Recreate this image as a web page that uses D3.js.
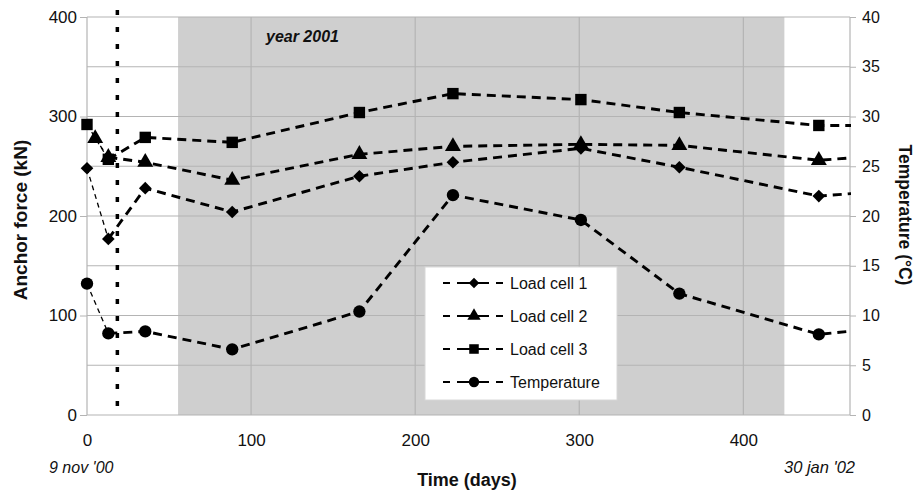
<!DOCTYPE html>
<html>
<head>
<meta charset="utf-8">
<script src="https://cdn.jsdelivr.net/npm/d3@7"></script>
<style>
    body { margin: 0; background: #fff; }
    svg { font-family: "Liberation Sans", Arial, sans-serif; }
</style>
</head>
<body>
<svg id="chart" width="919" height="495"></svg>
<script>
// time in days since 9 nov '00 (last day sits just past the axis, it is clipped)
const days = [0, 13, 35.5, 88.5, 166, 223, 301, 361, 446, 470];
const days_cell2 = [5, 13, 35.5, 88.5, 166, 223, 301, 361, 446, 470];

const load_cell_1 = [248, 177, 228, 204, 240, 254, 268, 249, 220, 223];
const load_cell_2 = [278, 259, 254, 236, 262, 270, 272, 271, 256, 259];
const load_cell_3 = [292, 257, 279, 274, 304, 323, 317, 304, 291, 291];
const temperature = [13.2, 8.2, 8.4, 6.6, 10.4, 22.1, 19.6, 12.2, 8.1, 8.5];

const force_ticks = [0, 100, 200, 300, 400];
const temp_ticks = [0, 5, 10, 15, 20, 25, 30, 35, 40];
const time_ticks = [0, 100, 200, 300, 400];

const year_2001 = [55.5, 425];   // shaded band, days
const marker_day = 18.5;          // dotted vertical line

class AnchorChart {

    constructor(html_selector_id) {
        this.svg = d3.select(html_selector_id);
        this.x = d3.scaleLinear().domain([0, 465]).range([87, 850]);
        this.y = d3.scaleLinear().domain([0, 400]).range([415, 17]);
        this.y_temp = d3.scaleLinear().domain([0, 40]).range([415, 17]);
        this.grid_color = "#b4b4b4";
    }

    draw_background() {
        let x = this.x, y = this.y;
        this.svg.append("defs").append("clipPath")
            .attr("id", "plot-clip")
            .append("rect")
            .attr("x", x(0)).attr("y", y(400) - 10)
            .attr("width", x(465) - x(0) + 1).attr("height", y(0) - y(400) + 20);

        this.svg.append("rect")
            .attr("x", x(year_2001[0]))
            .attr("y", y(400))
            .attr("width", x(year_2001[1]) - x(year_2001[0]))
            .attr("height", y(0) - y(400))
            .attr("fill", "#cfcfcf");

        this.svg.append("text")
            .attr("x", 266).attr("y", 42)
            .attr("font-size", 16)
            .attr("font-weight", "bold")
            .attr("font-style", "italic")
            .attr("fill", "#111")
            .text("year 2001");

        // horizontal grid every 50 kN
        this.svg.append("g")
            .selectAll("line")
            .data(d3.range(0, 401, 50))
            .join("line")
            .attr("x1", x(0)).attr("x2", x(465))
            .attr("y1", function (d) { return y(d); })
            .attr("y2", function (d) { return y(d); })
            .attr("stroke", this.grid_color)
            .attr("stroke-width", 1.2);

        this.svg.append("g")
            .selectAll("line")
            .data(time_ticks.concat([465]))
            .join("line")
            .attr("x1", function (d) { return x(d); })
            .attr("x2", function (d) { return x(d); })
            .attr("y1", y(400)).attr("y2", y(0))
            .attr("stroke", this.grid_color)
            .attr("stroke-width", 1.2);
    }

    draw_axes() {
        let x = this.x, y = this.y, y_temp = this.y_temp;

        let left = this.svg.append("g")
            .attr("transform", "translate(" + x(0) + ",0)")
            .call(d3.axisLeft(y).tickValues(force_ticks).tickSize(7).tickPadding(3));
        let right = this.svg.append("g")
            .attr("transform", "translate(" + x(465) + ",0)")
            .call(d3.axisRight(y_temp).tickValues(temp_ticks).tickSize(6).tickPadding(6));
        let bottom = this.svg.append("g")
            .attr("transform", "translate(0," + y(0) + ")")
            .call(d3.axisBottom(x).tickValues(time_ticks).tickSize(0).tickPadding(19));

        [left, bottom].forEach(function (g) {
            g.selectAll("text").attr("font-size", 17);
        });
        right.selectAll("text").attr("font-size", 16);

        [left, right, bottom].forEach(function (g) {
            g.select(".domain").remove();
            g.selectAll("line").attr("stroke", "#b4b4b4");
            g.selectAll("text")
                .attr("fill", "#111")
                .attr("font-family", "Liberation Sans, Arial, sans-serif");
        });

        this.svg.append("text")
            .attr("transform", "translate(27,220) rotate(-90)")
            .attr("text-anchor", "middle")
            .attr("font-size", 19)
            .attr("font-weight", "bold")
            .attr("fill", "#111")
            .text("Anchor force (kN)");

        this.svg.append("text")
            .attr("transform", "translate(899,215) rotate(90)")
            .attr("text-anchor", "middle")
            .attr("font-size", 17.5)
            .attr("font-weight", "bold")
            .attr("fill", "#111")
            .text("Temperature (°C)");

        this.svg.append("text")
            .attr("x", 467).attr("y", 486)
            .attr("text-anchor", "middle")
            .attr("font-size", 18)
            .attr("font-weight", "bold")
            .attr("fill", "#111")
            .text("Time (days)");

        this.svg.append("text")
            .attr("x", 49).attr("y", 473)
            .attr("font-size", 16)
            .attr("font-style", "italic")
            .attr("fill", "#111")
            .text("9 nov '00");

        this.svg.append("text")
            .attr("x", 784).attr("y", 473)
            .attr("font-size", 16.5)
            .attr("font-style", "italic")
            .attr("fill", "#111")
            .text("30 jan '02");

        this.svg.append("line")
            .attr("x1", x(marker_day)).attr("x2", x(marker_day))
            .attr("y1", 10).attr("y2", y(0) + 2)
            .attr("stroke", "#000")
            .attr("stroke-width", 3.5)
            .attr("stroke-dasharray", "5,12");
    }

    draw_series(xs, ys, scale, symbol) {
        let x = this.x;
        let pts = xs.map(function (d, i) { return [x(d), scale(ys[i])]; });
        let line = d3.line();
        let g = this.svg.append("g");

        // first segment is drawn thinner in the original
        g.append("path")
            .attr("d", line(pts.slice(0, 2)))
            .attr("fill", "none")
            .attr("stroke", "#000")
            .attr("stroke-width", 1.3)
            .attr("stroke-dasharray", "5,4");

        g.append("path")
            .attr("d", line(pts.slice(1)))
            .attr("clip-path", "url(#plot-clip)")
            .attr("fill", "none")
            .attr("stroke", "#000")
            .attr("stroke-width", 2.9)
            .attr("stroke-dasharray", "9,6");

        g.selectAll(".mark")
            .data(pts.filter(function (p) { return p[0] <= x(465); }))
            .join("path")
            .attr("class", "mark")
            .attr("transform", function (p) {
                return "translate(" + p[0] + "," + p[1] + ")" + (symbol.rot ? " rotate(45)" : "");
            })
            .attr("d", d3.symbol().type(symbol.type).size(symbol.size)())
            .attr("fill", "#000");
    }

    draw_legend(entries) {
        let lg = this.svg.append("g");
        lg.append("rect")
            .attr("x", 425).attr("y", 267)
            .attr("width", 192).attr("height", 133)
            .attr("fill", "#fff")
            .attr("stroke", "#d8d8d8");

        let row = lg.selectAll(".entry")
            .data(entries)
            .join("g")
            .attr("class", "entry")
            .attr("transform", function (d, i) { return "translate(0," + (283 + i * 33) + ")"; });

        row.append("line")
            .attr("x1", 443).attr("x2", 506)
            .attr("stroke", "#000")
            .attr("stroke-width", 2)
            .attr("stroke-dasharray", "7,7,32,7");

        row.append("path")
            .attr("transform", function (d) {
                return "translate(474,0)" + (d.symbol.rot ? " rotate(45)" : "");
            })
            .attr("d", function (d) {
                return d3.symbol().type(d.symbol.type).size(d.symbol.size * 0.7)();
            })
            .attr("fill", "#000");

        row.append("text")
            .attr("x", 510).attr("y", 6)
            .attr("font-size", 16)
            .attr("fill", "#111")
            .text(function (d) { return d.name; });
    }
}

const sym_diamond = { type: d3.symbolSquare, size: 80, rot: true };
const sym_triangle = { type: d3.symbolTriangle, size: 110 };
const sym_square = { type: d3.symbolSquare, size: 130 };
const sym_circle = { type: d3.symbolCircle, size: 120 };

let chart = new AnchorChart("#chart");
chart.draw_background();
chart.draw_axes();
chart.draw_series(days, temperature, chart.y_temp, sym_circle);
chart.draw_series(days, load_cell_1, chart.y, sym_diamond);
chart.draw_series(days_cell2, load_cell_2, chart.y, sym_triangle);
chart.draw_series(days, load_cell_3, chart.y, sym_square);
chart.draw_legend([
    { name: "Load cell 1", symbol: sym_diamond },
    { name: "Load cell 2", symbol: sym_triangle },
    { name: "Load cell 3", symbol: sym_square },
    { name: "Temperature", symbol: sym_circle }
]);
</script>
</body>
</html>
